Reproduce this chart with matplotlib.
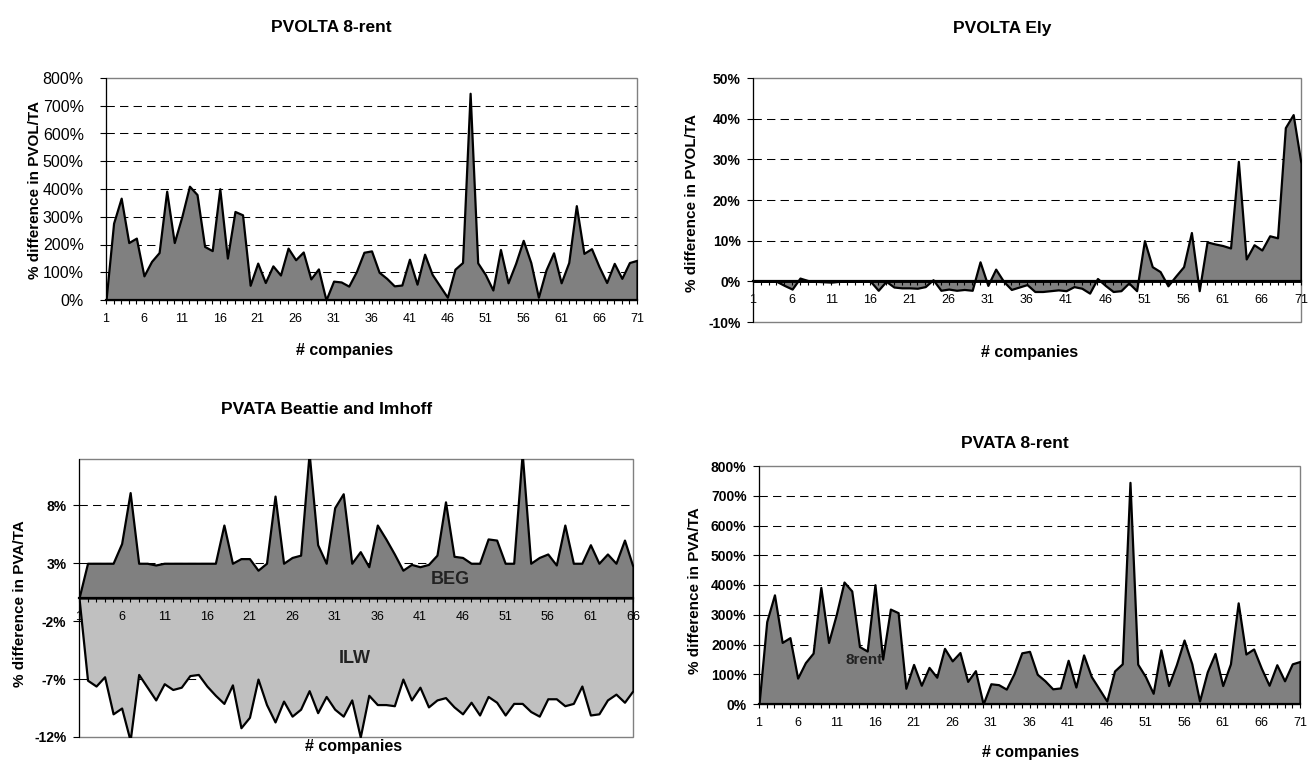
import numpy as np
import matplotlib
matplotlib.use("Agg")
import matplotlib.pyplot as plt
from matplotlib.ticker import FixedLocator, FuncFormatter
from matplotlib.patches import Rectangle

plt.rcParams['font.family'] = ['Liberation Sans', 'DejaVu Sans']

W, H = 1309, 760

# PVOLTA / PVATA 8-rent (same series in both panels), % difference
rent8 = [0, 277, 367, 207, 223, 87, 139, 171, 392, 207,
         301, 410, 380, 193, 178, 401, 151, 319, 307, 53,
         133, 63, 123, 90, 187, 145, 173, 76, 112, 0,
         68, 65, 50, 102, 172, 177, 100, 78, 51, 54,
         147, 57, 165, 92, 51, 10, 111, 135, 745, 134,
         92, 36, 182, 62, 132, 215, 135, 10, 108, 170,
         62, 135, 340, 168, 185, 120, 63, 132, 78, 135, 143]

# PVOLTA Ely
ely = [0, 0, 0, 0, -1.0, -1.9, 0.8, 0.2, 0, -0.1,
       -0.2, 0, 0, 0, 0, 0, -2.2, 0, -1.4, -1.6,
       -1.6, -1.7, -1.3, 0.4, -2.2, -1.9, -2.2, -2.0, -2.2, 4.8,
       -1.0, 3.0, 0, -2.0, -1.4, -0.8, -2.5, -2.5, -2.3, -2.1,
       -2.3, -1.3, -1.7, -2.9, 0.7, -1.0, -2.5, -2.3, -0.4, -2.3,
       10.0, 3.6, 2.4, -1.1, 1.3, 3.6, 12.0, -2.3, 9.7, 9.2,
       8.8, 8.2, 29.5, 5.5, 9.0, 7.7, 11.2, 10.7, 37.8, 41.0, 29.0]

# PVATA Beattie and Imhoff
beg = [0, 3.0, 3.0, 3.0, 3.0, 4.7, 9.1, 3.0, 3.0, 2.85,
       3.0, 3.0, 3.0, 3.0, 3.0, 3.0, 3.0, 6.3, 3.0, 3.4,
       3.4, 2.4, 3.0, 8.8, 3.0, 3.5, 3.7, 12.5, 4.6, 3.0,
       7.8, 9.0, 3.0, 4.0, 2.7, 6.3, 5.1, 3.8, 2.4, 2.9,
       2.7, 2.9, 3.7, 8.3, 3.6, 3.5, 3.0, 3.0, 5.1, 5.0,
       3.0, 3.0, 12.5, 3.0, 3.5, 3.8, 2.85, 6.3, 3.0, 3.0,
       4.6, 3.0, 3.8, 3.0, 5.0, 2.7]
ilw = [0, -7.1, -7.6, -6.8, -10.0, -9.5, -12.3, -6.6, -7.7, -8.8,
       -7.4, -7.9, -7.7, -6.7, -6.6, -7.6, -8.4, -9.1, -7.5, -11.2,
       -10.3, -7.0, -9.2, -10.7, -8.9, -10.2, -9.6, -8.0, -9.9, -8.5,
       -9.6, -10.2, -8.8, -12.0, -8.4, -9.2, -9.2, -9.3, -7.0, -8.8,
       -7.7, -9.4, -8.8, -8.6, -9.4, -10.0, -9.0, -10.1, -8.5, -9.0,
       -10.1, -9.1, -9.1, -9.8, -10.2, -8.7, -8.7, -9.3, -9.1, -7.6,
       -10.1, -10.0, -8.8, -8.3, -9.0, -8.0]

DARK = "#808080"
LIGHT = "#c0c0c0"
pct = FuncFormatter(lambda v, p: f"{v:.0f}%")

fig = plt.figure(figsize=(W / 100, H / 100), dpi=100)


def box(l, r, t, b):
    return [l / W, 1 - b / H, (r - l) / W, (b - t) / H]


def panel(rect, n, ylim, yticks, grid, ybold, ypad):
    ax = fig.add_axes(box(*rect))
    ax.set_axisbelow(False)
    ax.set_xlim(1, n)
    ax.set_ylim(*ylim)
    for s in ["top", "right"]:
        ax.spines[s].set_visible(False)
    ax.add_patch(Rectangle((0, 0), 1, 1, transform=ax.transAxes, fill=False,
                           ec=DARK, lw=1.0, zorder=0.5, clip_on=False))
    ax.spines["left"].set_color("black")
    ax.spines["bottom"].set_position(("data", 0))
    ax.spines["bottom"].set_linewidth(1.6)
    ax.spines["bottom"].set_zorder(4)
    ax.xaxis.set_major_locator(FixedLocator(range(1, n + 1, 5)))
    ax.xaxis.set_minor_locator(FixedLocator(range(1, n + 1)))
    ax.tick_params(axis="x", which="both", direction="out", length=3,
                   width=0.8, labelsize=9, pad=6)
    ax.yaxis.set_major_locator(FixedLocator(yticks))
    ax.yaxis.set_major_formatter(pct)
    ax.tick_params(axis="y", direction="out", length=4, width=0.8,
                   labelsize=10 if ybold else 11.5, pad=ypad)
    if ybold:
        for t in ax.get_yticklabels():
            t.set_fontweight("bold")
    for g in grid:
        ax.axhline(g, color="black", lw=0.75, dashes=(8, 5), zorder=1)
    return ax


def labels(title, tx, ty, ylab, yx, yy, xx, xy):
    fig.text(tx / W, 1 - ty / H, title, ha="center", va="center",
             fontsize=12.5, fontweight="bold")
    fig.text(yx / W, 1 - yy / H, ylab, ha="center", va="center",
             rotation=90, fontsize=11, fontweight="bold")
    fig.text(xx / W, 1 - xy / H, "# companies", ha="center", va="center",
             fontsize=11.5, fontweight="bold")


# top left: PVOLTA 8-rent
x71 = np.arange(1, 72)
ax1 = panel((106, 637, 78, 300), 71, (0, 800), range(0, 801, 100),
            range(100, 800, 100), False, 12)
ax1.fill_between(x71, rent8, 0, facecolor=DARK, edgecolor="black", lw=1.6, zorder=2)
labels("PVOLTA 8-rent", 331, 28, "% difference in PVOL/TA", 35, 190, 345, 350)

# top right: PVOLTA Ely
ax2 = panel((753, 1301, 78, 322), 71, (-10, 50), range(-10, 51, 10),
            range(10, 50, 10), True, 5)
ax2.fill_between(x71, ely, 0, facecolor=DARK, edgecolor="black", lw=1.6, zorder=2)
labels("PVOLTA Ely", 1002, 28, "% difference in PVOL/TA", 692, 203, 1030, 352)

# bottom left: PVATA Beattie and Imhoff
x66 = np.arange(1, 67)
ax3 = panel((79, 633, 459, 737), 66, (-12, 12), [-12, -7, -2, 3, 8],
            [-7, -2, 3, 8], True, 5)
ax3.fill_between(x66, beg, 0, facecolor=DARK, edgecolor="black", lw=1.6, zorder=2)
ax3.fill_between(x66, ilw, 0, facecolor=LIGHT, edgecolor="black", lw=1.6, zorder=2)
ax3.text(44.6, 1.6, "BEG", ha="center", va="center", fontsize=13,
         fontweight="bold", color="#222222", zorder=5)
ax3.text(33.4, -5.2, "ILW", ha="center", va="center", fontsize=13,
         fontweight="bold", color="#222222", zorder=5)
labels("PVATA Beattie and Imhoff", 327, 410, "% difference in PVA/TA", 20, 604, 354, 747)

# bottom right: PVATA 8-rent
ax4 = panel((759, 1300, 466, 704), 71, (0, 800), range(0, 801, 100),
            range(100, 800, 100), True, 5)
ax4.fill_between(x71, rent8, 0, facecolor=DARK, edgecolor="black", lw=1.6, zorder=2)
ax4.text(14.6, 148, "8rent", ha="center", va="center", fontsize=11,
         fontweight="bold", color="#222222", zorder=5)
labels("PVATA 8-rent", 1015, 443, "% difference in PVA/TA", 695, 591, 1031, 752)

fig.savefig("out.png", dpi=100)
